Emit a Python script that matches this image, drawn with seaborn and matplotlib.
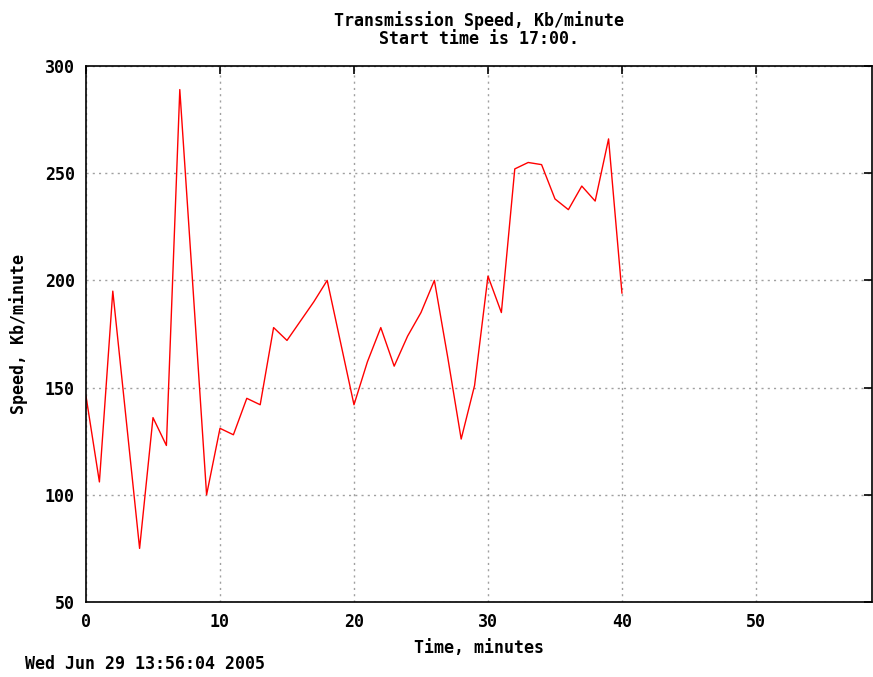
import matplotlib
matplotlib.use("Agg")
import matplotlib.pyplot as plt
import seaborn as sns
import pandas as pd

minutes = list(range(0, 41))
speed = [146, 106, 195, 135, 75, 136, 123, 289, 195, 100,
         131, 128, 145, 142, 178, 172, 181, 190, 200, 171,
         142, 162, 178, 160, 174, 185, 200, 164, 126, 151,
         202, 185, 252, 255, 254, 238, 233, 244, 237, 266,
         194]
xticks = [0, 10, 20, 30, 40, 50]
yticks = [50, 100, 150, 200, 250, 300]

sns.set_theme(style="white")
plt.rcParams['font.family'] = ['DejaVu Sans Mono']
plt.rcParams['font.weight'] = 'bold'
plt.rcParams['text.color'] = 'black'
plt.rcParams['axes.labelcolor'] = 'black'
plt.rcParams['xtick.color'] = 'black'
plt.rcParams['ytick.color'] = 'black'

df = pd.DataFrame({"minute": minutes, "speed": speed})

fig = plt.figure(figsize=(8.73, 6.77), dpi=100)
ax = fig.add_axes([86/873, 1-602/677, (872-86)/873, (602-66)/677])
sns.lineplot(data=df, x="minute", y="speed", color="#ff0000", linewidth=1.0, ax=ax)

ax.set_xlim(0, 58.66)
ax.set_ylim(50, 300)
ax.set_xticks(xticks)
ax.set_yticks(yticks)
ax.grid(True, color="#a0a0a0", linestyle=(0, (1.5, 3)), linewidth=1.0)
for s in ax.spines.values():
    s.set_color("black")
    s.set_linewidth(1.2)
ax.tick_params(direction="in", length=6, width=1.2, color="black",
               top=True, right=True, labelsize=12, pad=8)
ax.set_xlabel("Time, minutes", fontsize=12, fontweight="bold", labelpad=5.5)
ax.set_ylabel("Speed, Kb/minute", fontsize=12, fontweight="bold", labelpad=12)
ax.set_title("Transmission Speed, Kb/minute\nStart time is 17:00.",
             fontsize=12, fontweight="bold", pad=15.5, linespacing=1.05)
fig.text(25/873, 1-664/677, "Wed Jun 29 13:56:04 2005", fontsize=12,
         fontweight="bold", va="center", ha="left")

fig.savefig("out.png", dpi=100)
